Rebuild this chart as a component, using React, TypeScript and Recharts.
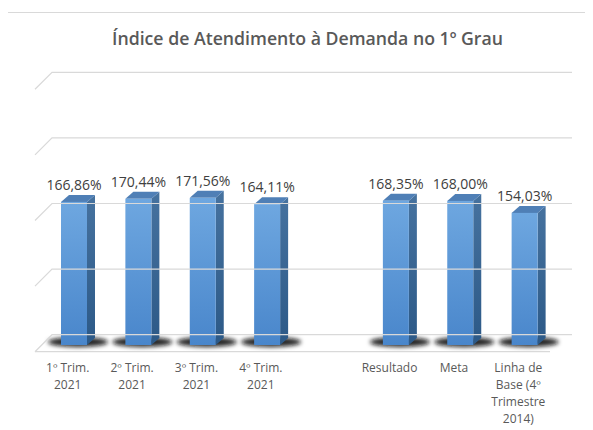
import { Bar, BarChart, LabelList, ReferenceLine, XAxis, YAxis } from 'recharts'

const categories = [
  '1º Trim.\n2021',
  '2º Trim.\n2021',
  '3º Trim.\n2021',
  '4º Trim.\n2021',
  '',
  'Resultado',
  'Meta',
  'Linha de\nBase (4º\nTrimestre\n2014)',
]
const values = [166.86, 170.44, 171.56, 164.11, null, 168.35, 168.0, 154.03]

// back wall levels of the 3D chart, mapped onto the front (bar) scale
const wallTicks = [0, 100, 200, 300, 400]
const wallBase = 12
const wallScale = 0.765

const data = categories.map((name, i) => ({ name, value: values[i] }))

const fmt = (v: any) =>
  v == null ? '' : `${Number(v).toFixed(2).replace('.', ',')}%`

const DEPTH_X = 8
const DEPTH_Y = 7

function Bar3D(props: any) {
  const { x, y, width: w, height: h } = props
  if (h == null || h <= 0) return null
  const bottom = y + h
  return (
    <g>
      <ellipse
        cx={x + w / 2 + 4}
        cy={bottom - 3}
        rx={w / 2 + 17}
        ry={5}
        fill='#111'
        fillOpacity={0.9}
        filter='url(#blur3d)'
      />
      <polygon
        points={`${x + w},${y} ${x + w + DEPTH_X},${y - DEPTH_Y} ${x + w + DEPTH_X},${bottom - DEPTH_Y} ${x + w},${bottom}`}
        fill='url(#side)'
      />
      <polygon
        points={`${x},${y} ${x + DEPTH_X},${y - DEPTH_Y} ${x + w + DEPTH_X},${y - DEPTH_Y} ${x + w},${y}`}
        fill='#4f7fb6'
      />
      <rect x={x} y={y} width={w} height={h} fill='url(#front)' />
    </g>
  )
}

function WallLine(props: any) {
  const { x1, x2, y1 } = props
  const left = Math.min(x1, x2)
  const right = Math.max(x1, x2)
  const isFloor = props.level === 0
  return (
    <g fill='none' stroke='#d9d9d9' strokeWidth={1.2}>
      <path d={`M${left - 7},${y1 + 17} L${left + 10},${y1} L${right + 15},${y1}`} />
      {isFloor && <path d={`M${left - 7},${y1 + 17} L${right - 7},${y1 + 17}`} />}
    </g>
  )
}

function CategoryTick(props: any) {
  const { x, y, payload } = props
  const lines = String(payload.value).split('\n')
  return (
    <text
      x={x - 6.5}
      y={y + 27}
      textAnchor='middle'
      fill='#595959'
      fontSize={12}
      fontFamily='Open Sans'
    >
      {lines.map((line, i) => (
        <tspan key={i} x={x - 6.5} dy={i === 0 ? 0 : 17}>
          {line}
        </tspan>
      ))}
    </text>
  )
}

export default function App() {
  return (
    <div style={{ position: 'relative', width: 585, height: 422 }}>
      <div
        style={{
          position: 'absolute',
          left: -1,
          top: 4,
          right: -10,
          bottom: -10,
          borderTop: '1px solid #d9d9d9',
          borderLeft: '1px solid #d9d9d9',
        }}
      />
      <div
        style={{
          position: 'absolute',
          top: 21,
          left: 7,
          width: 585,
          textAlign: 'center',
          fontFamily: 'Open Sans',
          fontWeight: 600,
          fontSize: 17.7,
          lineHeight: '18px',
          color: '#595959',
          whiteSpace: 'nowrap',
        }}
      >
        Índice de Atendimento à Demanda no 1º Grau
      </div>
      <BarChart
        width={585}
        height={422}
        data={data}
        margin={{ top: 54, right: 36, bottom: 0, left: 34 }}
        style={{ position: 'absolute', left: 0, top: 0 }}
      >
        <defs>
          <linearGradient id='front' x1='0' y1='0' x2='0' y2='1'>
            <stop offset='0%' stopColor='#6ea7e0' />
            <stop offset='100%' stopColor='#4986cb' />
          </linearGradient>
          <linearGradient id='side' x1='0' y1='0' x2='0' y2='1'>
            <stop offset='0%' stopColor='#46729f' />
            <stop offset='100%' stopColor='#2c5987' />
          </linearGradient>
          <filter id='blur3d' x='-50%' y='-200%' width='200%' height='500%'>
            <feGaussianBlur stdDeviation='2.2' />
          </filter>
        </defs>
        <XAxis
          dataKey='name'
          height={85}
          interval={0}
          tickLine={false}
          axisLine={false}
          tickSize={0}
          tickMargin={0}
          tick={<CategoryTick />}
        />
        <YAxis hide domain={[0, 330]} />
        {wallTicks.map((level) => (
          <ReferenceLine
            key={level}
            y={wallBase + level * wallScale}
            ifOverflow='visible'
            shape={(p: any) => <WallLine {...p} level={level} />}
          />
        ))}
        <Bar
          dataKey='value'
          barSize={26}
          isAnimationActive={false}
          shape={<Bar3D />}
        >
          <LabelList
            dataKey='value'
            position='top'
            offset={12}
            formatter={fmt}
            fill='#404040'
            fontSize={14}
            fontFamily='Open Sans'
          />
        </Bar>
      </BarChart>
    </div>
  )
}
